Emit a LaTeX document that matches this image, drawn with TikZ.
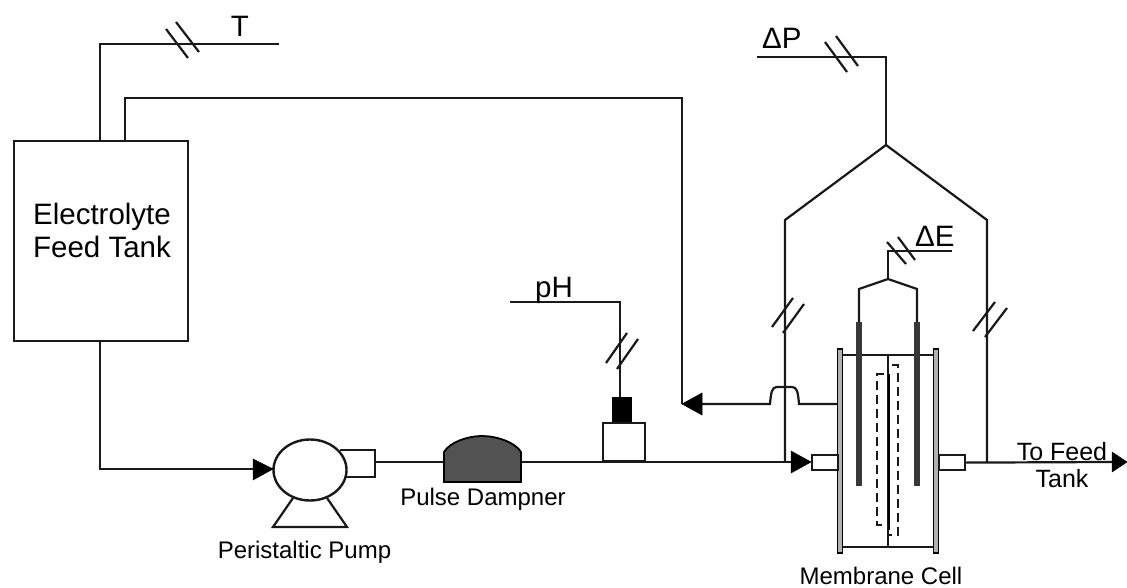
\documentclass[tikz,border=0pt]{standalone}
\usepackage{fontspec}
\setmainfont{Liberation Sans}
\usetikzlibrary{shapes.geometric}
\tikzset{
  pipe/.style={draw=black!90,line width=2.2pt,line join=miter},
  tick/.style={draw=black!90,line width=2.2pt},
  tip/.style={fill=black,draw=black,line width=.5pt},
  plate/.style={draw=black,line width=1.6pt,fill=black!30},
  lab/.style={inner sep=0pt,font=\fontsize{29.5}{33}\selectfont,align=center},
  smalllab/.style={inner sep=0pt,font=\fontsize{24}{27}\selectfont,align=center},
  box/.style={draw=black!90,line width=2.2pt,fill=white,inner sep=0pt}
}
\begin{document}
\begin{tikzpicture}[x=1pt,y=-1pt]
\useasboundingbox[fill=white] (0,0) rectangle (1127,588);
% tank
\node[box,minimum width=174pt,minimum height=200pt,anchor=north west] (tank) at (13,140) {};
\node[lab,anchor=center] (tanktext) at (102,230) {Electrolyte\\Feed Tank};
\coordinate (tT) at (100,140); \coordinate (tTc) at (100,44); \coordinate (tTe) at (279,44);
\coordinate (tR) at (125,140); \coordinate (tRc) at (125,98); \coordinate (rC) at (682,98); \coordinate (rT) at (682,404);
\coordinate (tB) at (100,340); \coordinate (tBc) at (100,469); \coordinate (pIn) at (273,469);
\draw[pipe] (tT) -- (tTc) -- (tTe);
\draw[pipe] (tR) -- (tRc) -- (rC) -- (rT);
\draw[pipe] (tB) -- (tBc) -- (pIn);
\node[lab,anchor=base] (Tl) at (240,37) {T};
\draw[tick] (166,29) -- (188,58) (176,22) -- (199,52);
% pump
\coordinate (sa) at (293,498); \coordinate (sb) at (273,527); \coordinate (sc) at (347,527); \coordinate (sd) at (327,498);
\draw[pipe] (sa) -- (sb) -- (sc) -- (sd);
\coordinate (ba) at (340,450); \coordinate (bb) at (375,450); \coordinate (bc) at (375,477); \coordinate (bd) at (340,477);
\draw[pipe] (ba) -- (bb) -- (bc) -- (bd);
\node[draw=black!90,line width=2.4pt,fill=white,ellipse,minimum width=73pt,minimum height=61pt,inner sep=0pt] (pump) at (310,470) {};
\coordinate (pOut) at (375,462);
\coordinate (ptA) at (253,459); \coordinate (ptB) at (253,480);
\fill[tip] (ptA) -- (pIn) -- (ptB) -- cycle;
\node[smalllab,anchor=base] (pumpl) at (304.5,558) {Peristaltic Pump};
% damper
\coordinate (dL) at (444,462); \coordinate (dR) at (521,462);
\coordinate (mIn) at (791,462);
\draw[pipe] (pOut) -- (dL);
\draw[pipe] (dR) -- (mIn);
\draw[draw=black,line width=1.8pt,fill=black!68] (444,482) -- (444,452) .. controls (450,442) and (468,436) .. (482,436) .. controls (496,436) and (515,442) .. (521,452) -- (521,482) -- cycle;
\node[smalllab,anchor=base] (dampl) at (483,505) {Pulse Dampner};
% pH probe
\node[box,minimum width=42pt,minimum height=38pt,anchor=north west] (probe) at (602,422) {};
\node[fill=black,minimum width=20pt,minimum height=25pt,inner sep=0pt,anchor=south] (cap) at (622,422) {};
\coordinate (phE) at (510,302); \coordinate (phC) at (620,302);
\draw[pipe] (phE) -- (phC) -- (cap.north -| phC);
\draw[tick] (606,363) -- (627,333) (617,369) -- (638,339);
\node[lab,anchor=base] (phl) at (554,297) {pH};
% dP
\coordinate (peak) at (886,145); \coordinate (dpE) at (757,57); \coordinate (dpC) at (886,57);
\coordinate (lS) at (785,220); \coordinate (rS) at (987,220); \coordinate (lB) at (785,462); \coordinate (rB) at (987,462);
\draw[pipe] (dpE) -- (dpC) -- (peak);
\draw[pipe] (lB) -- (lS) -- (peak) -- (rS) -- (rB);
\draw[tick] (825,42) -- (847,72) (836,36) -- (858,66);
\draw[tick] (772,327) -- (793,298) (783,333) -- (804,304);
\draw[tick] (973,331) -- (995,302) (985,337) -- (1007,308);
\node[lab,anchor=base west] (dpl) at (762,49) {ΔP};
% return with bump
\coordinate (cOut) at (837,404);
\draw[pipe] (cOut) -- (799,404) .. controls (798,392) and (797,387) .. (792,387) -- (777,387) .. controls (772,387) and (771,392) .. (770,404) -- (702,404);
\coordinate (raA) at (702,393); \coordinate (raB) at (702,415);
\fill[tip] (raA) -- (rT) -- (raB) -- cycle;
% cell
\draw[pipe] (842,355) -- (934,355) (842,547) -- (934,547);
\coordinate (cT) at (888,355); \coordinate (cB) at (888,547);
\draw[draw=black!90,line width=1.8pt] (cT) -- (cB);
\node[plate,minimum width=5pt,minimum height=204pt,inner sep=0pt,anchor=north] (pL) at (840,348) {};
\node[plate,minimum width=5pt,minimum height=204pt,inner sep=0pt,anchor=north] (pR) at (936,348) {};
\node[box,minimum width=26pt,minimum height=15pt,anchor=north west] (portL) at (811,454) {};
\node[box,minimum width=26pt,minimum height=15pt,anchor=north west] (portR) at (938,454) {};
\coordinate (mInA) at (791,451); \coordinate (mInB) at (791,473); \coordinate (mTip) at (811,462);
\fill[tip] (mInA) -- (mTip) -- (mInB) -- cycle;
% electrodes
\node[fill=black!78,minimum width=6pt,minimum height=164pt,inner sep=0pt,anchor=north] (eL) at (859,322) {};
\node[fill=black!78,minimum width=6pt,minimum height=164pt,inner sep=0pt,anchor=north] (eR) at (917,322) {};
\coordinate (eP) at (888,279);
\draw[pipe] (eL.north) -- (859,289) -- (eP) -- (917,289) -- (eR.north);
\coordinate (deC) at (888,251); \coordinate (deE) at (952,251);
\draw[pipe] (eP) -- (deC) -- (deE);
\draw[tick] (887,242) -- (906,264) (898,237) -- (915,260);
\node[lab,anchor=base west] (del) at (915,247) {ΔE};
% membrane
\draw[draw=black,line width=2.6pt] (889,374) -- (889,530);
\draw[draw=black!90,line width=1.8pt,dash pattern=on 9pt off 5pt] (884,374) -- (877,374) -- (877,525) -- (889,525);
\draw[draw=black!90,line width=1.8pt,dash pattern=on 9pt off 5pt] (892,365) -- (898,365) -- (898,535) -- (889,535);
% out
\coordinate (oE) at (1112,462); \coordinate (oA) at (1112,452); \coordinate (oB) at (1112,472); \coordinate (oT) at (1127,462);
\draw[pipe] (portR.east) -- (oE);
\fill[tip] (oA) -- (oT) -- (oB) -- cycle;
\node[smalllab,font=\fontsize{25}{27}\selectfont] (ftl) at (1062,465) {To Feed\\Tank};
\node[smalllab,anchor=base] (mcl) at (881,584) {Membrane Cell};
\end{tikzpicture}
\end{document}
